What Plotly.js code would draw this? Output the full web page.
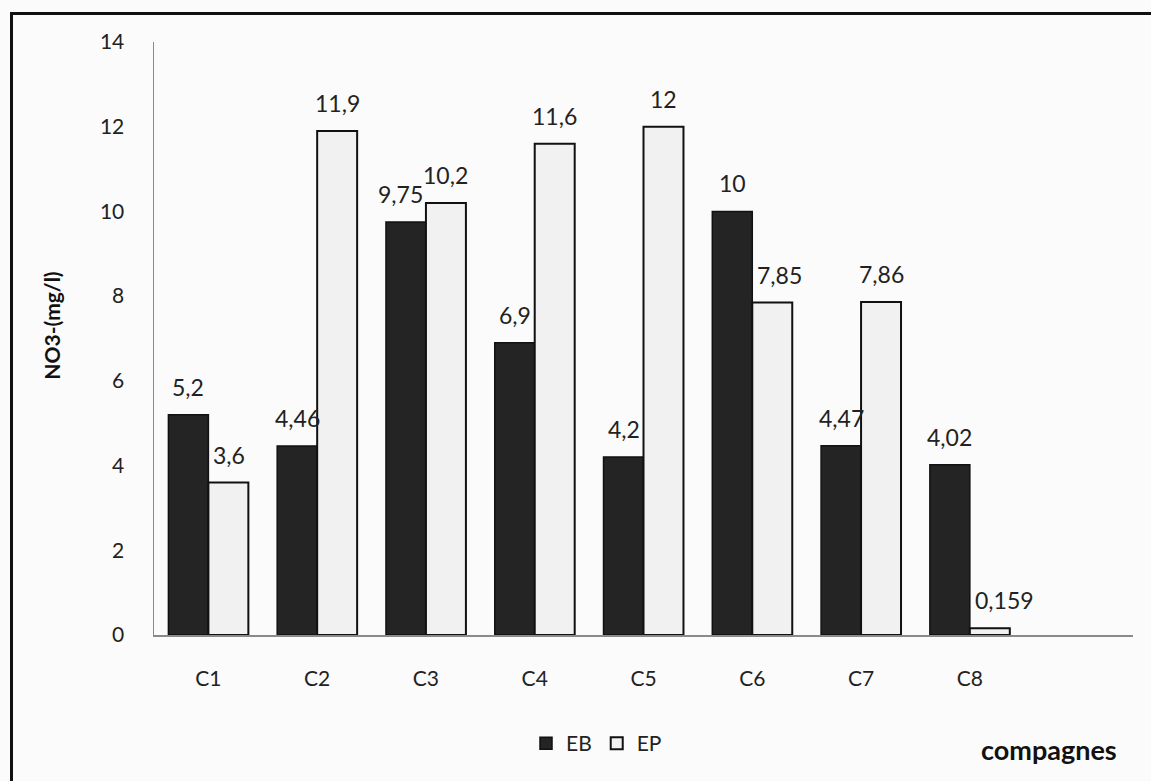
<!DOCTYPE html>
<html>
<head>
<meta charset="utf-8">
<script src="https://cdn.plot.ly/plotly-3.0.1.min.js"></script>
<style>
  html, body { margin: 0; padding: 0; background: #fbfbfb; }
  #wrap { position: relative; width: 1151px; height: 781px; overflow: hidden; }
  #frame { position: absolute; left: 10px; top: 12px; width: 1200px; height: 800px;
           border-left: 3px solid #111; border-top: 3px solid #111; pointer-events: none; z-index: 5; }
  #chart { position: absolute; left: 0; top: 0; width: 1151px; height: 781px; }
</style>
</head>
<body>
<div id="wrap">
  <div id="chart"></div>
  <div id="frame"></div>
</div>
<script>
// Nitrate concentration per sampling campaign
const campaigns = ['C1', 'C2', 'C3', 'C4', 'C5', 'C6', 'C7', 'C8'];
const ebValues = [5.2, 4.46, 9.75, 6.9, 4.2, 10, 4.47, 4.02];
const epValues = [3.6, 11.9, 10.2, 11.6, 12, 7.85, 7.86, 0.159];
const yTicks = [0, 2, 4, 6, 8, 10, 12, 14];

const FONT = 'Lato, "Open Sans", "Liberation Sans", sans-serif';
const TICK_SIZE = 21;
const LABEL_SIZE = 23;
const fr = v => String(v).replace('.', ',');

const traces = [
  {
    type: 'bar', name: 'EB', x: campaigns, y: ebValues,
    marker: { color: '#242424', line: { color: '#111', width: 1.5 } },
    hoverinfo: 'x+y'
  },
  {
    type: 'bar', name: 'EP', x: campaigns, y: epValues,
    marker: { color: '#f1f1f1', line: { color: '#111', width: 2 } },
    hoverinfo: 'x+y'
  }
];

// value labels above each bar; a label is pushed aside when the
// neighbouring bar of the same group would otherwise collide with it
function labelFont() { return { family: FONT, size: LABEL_SIZE, color: '#222' }; }
const ebLabels = ebValues.map((v, i) => {
  const crowded = epValues[i] > v && epValues[i] - v < 1;
  return {
    x: campaigns[i], y: v, xref: 'x', yref: 'y', text: fr(v), showarrow: false,
    xanchor: crowded ? 'right' : 'center', xshift: crowded ? -1 : -20,
    yanchor: 'bottom', yshift: 12, font: labelFont()
  };
});
const epLabels = epValues.map((v, i) => {
  const beside = ebValues[i] > v;
  return {
    x: campaigns[i], y: v, xref: 'x', yref: 'y', text: fr(v), showarrow: false,
    xanchor: beside ? 'left' : 'center', xshift: beside ? 3 : 20,
    yanchor: 'bottom', yshift: 12, font: labelFont()
  };
});

const layout = {
  width: 1151, height: 781,
  margin: { l: 154, r: 18, t: 42, b: 146 },
  paper_bgcolor: '#fbfbfb', plot_bgcolor: '#fbfbfb',
  font: { family: FONT, size: TICK_SIZE, color: '#222' },
  barmode: 'group', bargap: 0.265, bargroupgap: 0,
  showlegend: true,
  legend: {
    orientation: 'h', x: 0.452, y: -0.183, xanchor: 'center', yanchor: 'middle',
    font: { family: FONT, size: TICK_SIZE, color: '#222' }, itemwidth: 30,
    tracegroupgap: 0, bgcolor: 'rgba(0,0,0,0)'
  },
  xaxis: {
    type: 'category', range: [-0.5, 8.5], showgrid: false, zeroline: false,
    showline: true, linecolor: '#8a8a8a', linewidth: 1.5, ticks: '',
    ticklabelstandoff: 24, tickfont: { family: FONT, size: TICK_SIZE, color: '#222' },
    fixedrange: true
  },
  yaxis: {
    range: [0, 14], tickvals: yTicks, ticktext: yTicks.map(String),
    showgrid: false, zeroline: false, showline: true, linecolor: '#8a8a8a', linewidth: 1.5,
    ticks: '', ticklabelstandoff: 24, tickfont: { family: FONT, size: TICK_SIZE, color: '#222' },
    fixedrange: true
  },
  annotations: [
    ...ebLabels,
    ...epLabels,
    {
      text: '<b>NO3-(mg/l)</b>', textangle: -90, xref: 'paper', yref: 'paper',
      x: -0.105, y: 0.522, xanchor: 'center', yanchor: 'middle', showarrow: false,
      font: { family: FONT, size: 21, color: '#111' }
    },
    {
      text: '<b>compagnes</b>', xref: 'paper', yref: 'paper',
      x: 0.9857, y: -0.193, xanchor: 'right', yanchor: 'middle', showarrow: false,
      font: { family: FONT, size: 27, color: '#111' }
    }
  ]
};

Plotly.newPlot('chart', traces, layout, { displayModeBar: false, staticPlot: true });
</script>
</body>
</html>
